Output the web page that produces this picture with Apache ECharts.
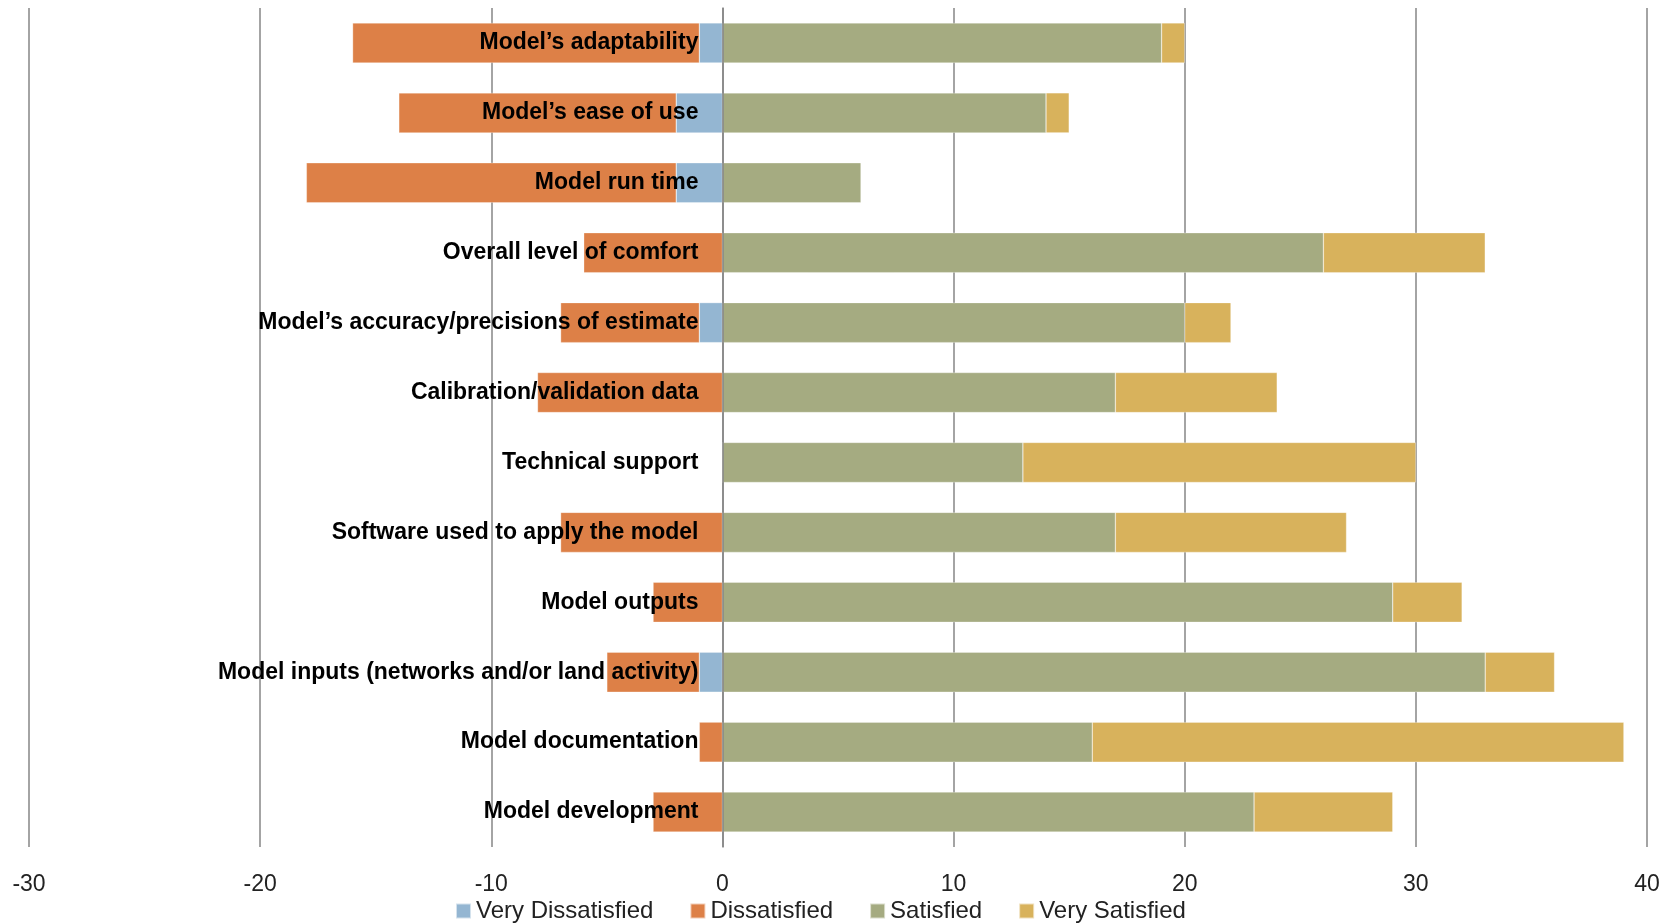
<!DOCTYPE html>
<html>
<head>
<meta charset="utf-8">
<script src="https://cdn.jsdelivr.net/npm/echarts@6/dist/echarts.min.js"></script>
<style>
  html, body { margin: 0; padding: 0; background: #fff; }
  #chart { width: 1673px; height: 924px; }
</style>
</head>
<body>
<div id="chart"></div>
<script>
// categories, top to bottom
var categories = [
  'Model\u2019s adaptability',
  'Model\u2019s ease of use',
  'Model run time',
  'Overall level of comfort',
  'Model\u2019s accuracy/precisions of estimate',
  'Calibration/validation data',
  'Technical support',
  'Software used to apply the model',
  'Model outputs',
  'Model inputs (networks and/or land activity)',
  'Model documentation',
  'Model development'
]
var veryDissatisfied = [-1, -2, -2, 0, -1, 0, 0, 0, 0, -1, 0, 0]
var dissatisfied = [-15, -12, -16, -6, -6, -8, 0, -7, -3, -4, -1, -3]
var satisfied = [19, 14, 6, 26, 20, 17, 13, 17, 29, 33, 16, 23]
var verySatisfied = [1, 1, 0, 7, 2, 7, 17, 10, 3, 3, 23, 6]

var xMin = -30
var xMax = 40

var labelFont = '"Liberation Sans", Arial, sans-serif'

var chart = echarts.init(document.getElementById('chart'))

function bar(name, data, color) {
  return {
    name: name,
    type: 'bar',
    stack: 'total',
    data: data,
    barWidth: 40,
    itemStyle: { color: color, borderColor: 'rgba(255,255,255,0.6)', borderWidth: 0.5 }
  }
}

chart.setOption({
  animation: false,
  grid: { left: 29, right: 26, top: 8, bottom: 77, outerBoundsMode: 'none', containLabel: false },
  legend: {
    bottom: -4,
    left: 450,
    itemWidth: 15,
    itemHeight: 15,
    itemGap: 36,
    icon: 'rect',
    textStyle: { fontFamily: labelFont, fontSize: 24, color: '#222' },
    data: ['Very Dissatisfied', 'Dissatisfied', 'Satisfied', 'Very Satisfied']
  },
  xAxis: {
    type: 'value',
    min: xMin,
    max: xMax,
    interval: 10,
    axisLine: { show: false },
    axisTick: { show: false },
    axisLabel: { fontFamily: labelFont, fontSize: 23, color: '#222', margin: 26 },
    splitLine: { lineStyle: { color: '#868686', width: 1.5 } }
  },
  yAxis: {
    type: 'category',
    data: categories,
    inverse: true,
    z: 10,
    position: 'left',
    axisLine: { show: true, onZero: false, lineStyle: { color: '#868686', width: 1.5 } },
    axisTick: { show: false },
    splitLine: { show: false },
    axisLabel: {
      margin: 24,
      verticalAlign: 'middle',
      padding: [8, 0, 0, 0],
      fontFamily: labelFont,
      fontWeight: 'bold',
      fontSize: 23,
      color: '#000'
    }
  },
  series: [
    bar('Very Dissatisfied', veryDissatisfied, '#94b6d2'),
    bar('Dissatisfied', dissatisfied, '#dd8047'),
    bar('Satisfied', satisfied, '#a5ab81'),
    bar('Very Satisfied', verySatisfied, '#d8b25c')
  ]
})

// move the category axis (labels) onto the zero line of the value axis
var zeroX = chart.convertToPixel({ xAxisIndex: 0 }, 0)
var leftX = chart.convertToPixel({ xAxisIndex: 0 }, xMin)
chart.setOption({ yAxis: { offset: leftX - zeroX } })
</script>
</body>
</html>
